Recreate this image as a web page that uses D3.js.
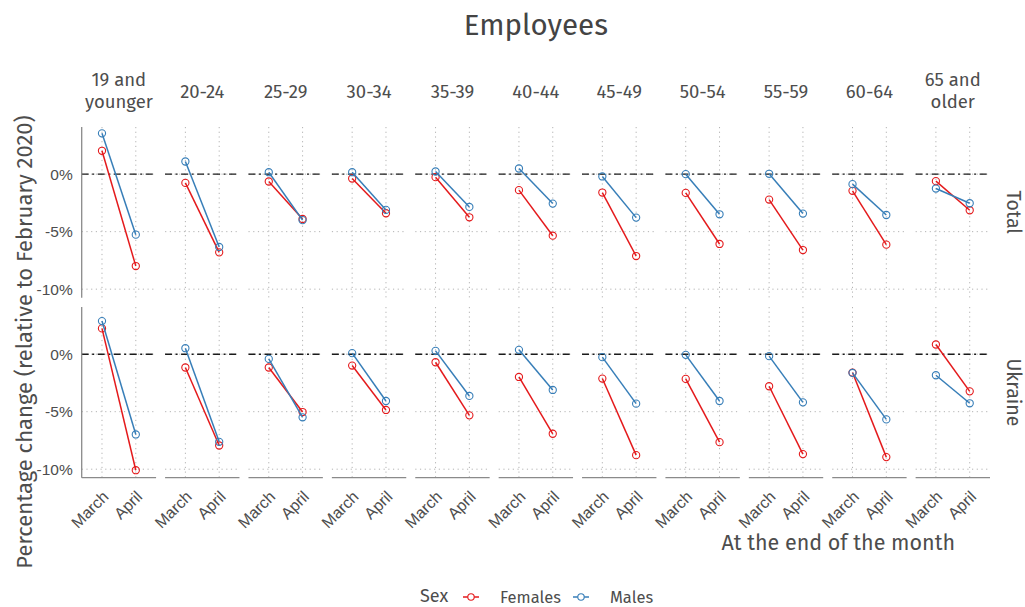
<!DOCTYPE html>
<html>
<head>
<meta charset="utf-8">
<script src="https://cdn.jsdelivr.net/npm/d3@7"></script>
<style>
  body { margin: 0; background: #fff; }
  svg { font-family: "Fira Sans", "Noto Sans", "Open Sans", sans-serif; }
</style>
</head>
<body>
<script>
// ---------- data ----------
const ageGroups = ["19 and\nyounger", "20-24", "25-29", "30-34", "35-39", "40-44", "45-49", "50-54", "55-59", "60-64", "65 and\nolder"];
const months = ["March", "April"];
const regions = ["Total", "Ukraine"];
const sexes = ["Females", "Males"];
const sexColors = ["#E41A1C", "#377EB8"];
const yTicks = [-10, -5, 0];

// [March, April] per age group, % change relative to February 2020
const totalFemales = [[2.03, -7.99], [-0.76, -6.8], [-0.64, -3.9], [-0.38, -3.4], [-0.26, -3.75], [-1.39, -5.35], [-1.6, -7.12], [-1.63, -6.07], [-2.21, -6.6], [-1.45, -6.13], [-0.61, -3.14]];
const totalMales = [[3.55, -5.26], [1.1, -6.33], [0.17, -4.0], [0.17, -3.11], [0.23, -2.85], [0.49, -2.56], [-0.2, -3.78], [0.0, -3.49], [0.03, -3.43], [-0.87, -3.55], [-1.25, -2.53]];
const ukraineFemales = [[2.24, -10.09], [-1.16, -7.94], [-1.16, -5.03], [-0.99, -4.85], [-0.7, -5.32], [-1.98, -6.92], [-2.12, -8.78], [-2.15, -7.65], [-2.79, -8.69], [-1.6, -8.95], [0.84, -3.23]];
const ukraineMales = [[2.88, -6.98], [0.52, -7.62], [-0.41, -5.49], [0.09, -4.07], [0.29, -3.63], [0.38, -3.11], [-0.26, -4.3], [-0.06, -4.07], [-0.17, -4.19], [-1.63, -5.67], [-1.83, -4.27]];

const seriesData = {
  "Total": [totalFemales, totalMales],
  "Ukraine": [ukraineFemales, ukraineMales]
};

// ---------- layout ----------
const W = 1025, H = 607;
const svg = d3.select("body").append("svg").attr("width", W).attr("height", H);

const fx = d3.scaleBand().domain(d3.range(ageGroups.length)).range([81.7, 990]).paddingInner(0.108);
const fy = d3.scaleBand().domain(regions).range([127, 477.7]).paddingInner(0.052);
const x = d3.scalePoint().domain(months).range([0, fx.bandwidth()]).padding(0.6);
const y = d3.scaleLinear().domain([-10.74, 4.1]).range([fy.bandwidth(), 0]);
const color = d3.scaleOrdinal().domain(sexes).range(sexColors);

const textCol = "#4d4d4d";
const gridCol = "#b3b3b3";
const axisCol = "#8a8a8a";

// title
svg.append("text")
  .attr("x", (fx.range()[0] + fx.range()[1]) / 2).attr("y", 35)
  .attr("text-anchor", "middle").attr("font-size", 29.5).attr("fill", "#444")
  .text("Employees");

// clip paths for strips
const defs = svg.append("defs");
ageGroups.forEach((a, i) => {
  defs.append("clipPath").attr("id", "clip" + i)
    .append("rect").attr("x", fx(i)).attr("y", 60).attr("width", fx.bandwidth()).attr("height", 60);
});

// top strips
ageGroups.forEach((a, i) => {
  const lines = a.split("\n");
  const cx = fx(i) + fx.bandwidth() / 2;
  const t = svg.append("text")
    .attr("clip-path", "url(#clip" + i + ")")
    .attr("text-anchor", "middle").attr("font-size", 18.5).attr("fill", textCol);
  if (lines.length === 1) {
    t.append("tspan").attr("x", cx).attr("y", 97.5).text(lines[0]);
  } else {
    t.append("tspan").attr("x", cx).attr("y", 86).text(lines[0]);
    t.append("tspan").attr("x", cx).attr("y", 108).text(lines[1]);
  }
});

// right strips
regions.forEach(r => {
  const cy = fy(r) + fy.bandwidth() / 2;
  svg.append("text")
    .attr("transform", `translate(1007,${cy}) rotate(90)`)
    .attr("text-anchor", "middle").attr("font-size", 19.5).attr("fill", textCol)
    .text(r);
});

const line = d3.line().x((d, j) => x(months[j])).y(d => y(d));

regions.forEach((r, ri) => {
  ageGroups.forEach((a, i) => {
    const g = svg.append("g").attr("transform", `translate(${fx(i)},${fy(r)})`);
    const bw = fx.bandwidth(), bh = fy.bandwidth();
    // grid
    months.forEach(m => {
      g.append("line").attr("x1", x(m)).attr("x2", x(m)).attr("y1", 0).attr("y2", bh)
        .attr("stroke", gridCol).attr("stroke-width", 1).attr("stroke-dasharray", "1.2,3.5");
    });
    yTicks.forEach(t => {
      g.append("line").attr("x1", 0).attr("x2", bw).attr("y1", y(t)).attr("y2", y(t))
        .attr("stroke", gridCol).attr("stroke-width", 1).attr("stroke-dasharray", "1.2,3.5");
    });
    // zero line
    g.append("line").attr("x1", 0).attr("x2", bw).attr("y1", y(0)).attr("y2", y(0))
      .attr("stroke", "#1a1a1a").attr("stroke-width", 1.4).attr("stroke-dasharray", "7,3.5,2,3.5");
    // series
    sexes.forEach((s, si) => {
      const vals = seriesData[r][si][i];
      g.append("path").datum(vals).attr("d", line)
        .attr("fill", "none").attr("stroke", color(s)).attr("stroke-width", 1.5);
      g.selectAll(null).data(vals).enter().append("circle")
        .attr("cx", (d, j) => x(months[j])).attr("cy", d => y(d)).attr("r", 3.6)
        .attr("fill", "none").attr("stroke", color(s)).attr("stroke-width", 1.1);
    });
    // left axis
    if (i === 0) {
      g.append("line").attr("x1", 0).attr("x2", 0).attr("y1", 0).attr("y2", bh)
        .attr("stroke", axisCol).attr("stroke-width", 1.3);
      const ya = g.append("g").call(d3.axisLeft(y).tickValues(yTicks).tickFormat(d => d + "%").tickSize(0).tickPadding(9));
      ya.select(".domain").remove();
      ya.selectAll("text").attr("font-size", 15.5).attr("fill", textCol).attr("font-family", null);
    }
    // bottom axis
    if (ri === regions.length - 1) {
      g.append("line").attr("x1", 0).attr("x2", bw).attr("y1", bh).attr("y2", bh)
        .attr("stroke", axisCol).attr("stroke-width", 1.3);
      const xa = g.append("g").attr("transform", `translate(0,${bh})`)
        .call(d3.axisBottom(x).tickSize(0).tickPadding(0));
      xa.select(".domain").remove();
      xa.selectAll("text")
        .attr("font-size", 16).attr("fill", textCol).attr("font-family", null)
        .attr("text-anchor", "end").attr("dy", null).attr("y", 0)
        .attr("transform", "translate(7,20) rotate(-45)");
    }
  });
});

// axis titles
svg.append("text")
  .attr("transform", "translate(32,342) rotate(-90)")
  .attr("text-anchor", "middle").attr("font-size", 22).attr("fill", textCol)
  .text("Percentage change (relative to February 2020)");

svg.append("text")
  .attr("x", 955).attr("y", 550).attr("text-anchor", "end")
  .attr("font-size", 21.5).attr("fill", textCol)
  .text("At the end of the month");

// legend
const lg = svg.append("g").attr("transform", "translate(0,597)");
lg.append("text").attr("x", 420).attr("y", 5).attr("font-size", 18).attr("fill", textCol).text("Sex");
const legendX = [463, 573];
sexes.forEach((s, si) => {
  const lx = legendX[si];
  lg.append("line").attr("x1", lx).attr("x2", lx + 16).attr("y1", 0).attr("y2", 0)
    .attr("stroke", color(s)).attr("stroke-width", 1.5);
  lg.append("circle").attr("cx", lx + 8).attr("cy", 0).attr("r", 3.2)
    .attr("fill", "#fff").attr("stroke", color(s)).attr("stroke-width", 1.1);
  lg.append("text").attr("x", lx + 37).attr("y", 5.5).attr("font-size", 16.5).attr("fill", textCol).text(s);
});
</script>
</body>
</html>
